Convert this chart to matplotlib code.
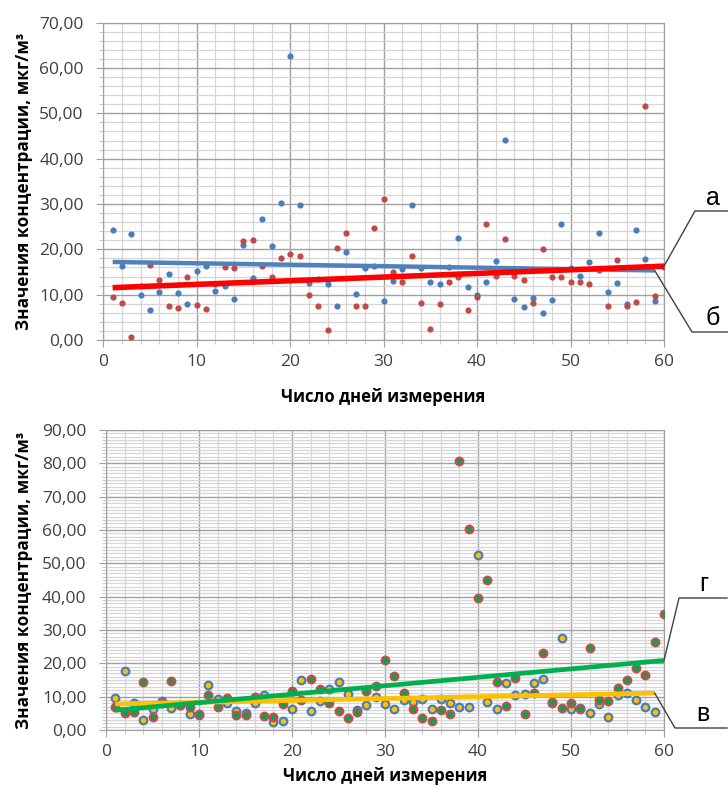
import numpy as np
import matplotlib
matplotlib.use("Agg")
import matplotlib.pyplot as plt
from matplotlib.lines import Line2D
from matplotlib.ticker import MultipleLocator, FuncFormatter

plt.rcParams['font.family'] = ['Open Sans', 'DejaVu Sans']

# ---- data ----
days_b = np.arange(1, 60)
conc_b = [24.2, 16.4, 23.4, 9.9, 6.6, 10.6, 14.6, 10.4, 7.9, 15.3,
          16.4, 10.7, 11.9, 9.1, 21.0, 13.7, 26.7, 20.7, 30.2, 62.6,
          29.7, 12.6, 13.5, 12.3, 7.6, 19.5, 10.1, 15.8, 16.3, 8.5,
          13.1, 15.6, 29.7, 15.9, 12.7, 12.3, 16.0, 22.5, 11.7, 9.9,
          12.9, 17.4, 44.1, 9.0, 7.3, 9.3, 6.0, 8.8, 25.7, 15.9,
          14.2, 17.2, 23.5, 10.6, 12.5, 7.9, 24.2, 17.8, 8.7]

days_a = np.arange(1, 61)
conc_a = [9.5, 8.2, 0.7, 11.9, 16.5, 13.2, 7.4, 7.0, 13.8, 7.8,
          6.8, 12.3, 16.2, 15.8, 21.8, 22.1, 16.4, 13.8, 18.2, 19.0,
          18.5, 9.9, 7.6, 2.1, 20.4, 23.5, 7.4, 7.4, 24.8, 31.2,
          14.9, 12.7, 18.5, 8.2, 2.5, 8.0, 12.7, 14.0, 6.6, 9.4,
          25.7, 14.1, 22.3, 14.1, 13.2, 8.2, 20.1, 13.8, 13.8, 12.7,
          12.7, 12.3, 15.5, 7.4, 17.6, 7.4, 8.4, 51.6, 9.6, 16.0]

days_v = np.arange(1, 60)
conc_v = [9.6, 17.8, 8.2, 3.0, 6.4, 8.7, 6.5, 7.4, 4.8, 4.6,
          13.4, 9.3, 8.1, 5.7, 5.2, 8.0, 10.5, 2.4, 2.7, 6.2,
          15.1, 5.8, 8.6, 12.2, 14.3, 10.7, 6.0, 7.6, 9.9, 7.9,
          6.2, 8.9, 8.5, 9.2, 6.2, 9.4, 8.0, 7.0, 6.8, 52.6,
          8.4, 6.2, 14.2, 10.5, 10.8, 14.2, 15.4, 8.0, 27.5, 6.2,
          6.5, 5.2, 7.8, 4.0, 10.4, 11.2, 9.0, 6.8, 5.4]

days_g = np.arange(1, 61)
conc_g = [7.0, 5.2, 5.3, 14.3, 3.8, 8.0, 14.8, 7.6, 6.9, 4.9,
          10.6, 6.8, 9.7, 4.4, 4.4, 9.8, 4.1, 4.0, 7.7, 11.8,
          8.9, 15.3, 12.2, 8.0, 5.7, 3.7, 5.3, 11.7, 13.1, 20.9,
          16.2, 11.1, 6.3, 3.5, 2.7, 5.9, 4.8, 80.8, 60.4, 39.6,
          45.1, 14.3, 7.1, 15.6, 4.9, 11.0, 23.0, 8.4, 6.6, 8.2,
          6.2, 24.7, 9.1, 8.6, 12.5, 15.0, 18.7, 16.4, 26.4, 34.7]

y_label = "Значения концентрации, мкг/м³"
x_label = "Число дней измерения"

W, H = 728, 792


def px_rect(l, t, r, b):
    return [l / W, 1 - b / H, (r - l) / W, (b - t) / H]


def px(x, y):
    return x / W, 1 - y / H


def trend(x, y):
    # linear trendline, like Excel's
    k, c = np.polyfit(x, y, 1)
    xs = np.array([x.min(), x.max()])
    return xs, k * xs + c


def style_axes(ax, ymax, ystep_minor, left_px, xlab_pad):
    ax.set_xlim(0, 60)
    ax.set_ylim(0, ymax)
    ax.xaxis.set_major_locator(MultipleLocator(10))
    ax.xaxis.set_minor_locator(MultipleLocator(2))
    ax.yaxis.set_major_locator(MultipleLocator(10))
    ax.yaxis.set_minor_locator(MultipleLocator(ystep_minor))
    ax.yaxis.set_major_formatter(FuncFormatter(lambda v, p: f"{v:.2f}".replace(".", ",")))
    ax.grid(which="major", color="#a0a0a0", lw=1.0)
    ax.grid(which="minor", color="#d6d6d6", lw=0.9)
    ax.set_axisbelow(True)
    for s in ax.spines.values():
        s.set_color("#a0a0a0")
    ax.tick_params(which="major", length=5, color="#a0a0a0", labelsize=12.5,
                   labelcolor="#404040")
    ax.tick_params(axis="y", which="major", pad=9)
    ax.tick_params(axis="x", which="major", pad=5)
    ax.tick_params(which="minor", length=3, color="#c0c0c0")
    ax.set_ylabel(y_label, fontsize=12.3, fontweight="bold")
    w_px = ax.get_position().width * W
    ax.yaxis.set_label_coords((33 - left_px) / w_px, 0.5)
    ax.set_xlabel(x_label, fontsize=12, fontweight="bold", labelpad=xlab_pad)


def callout(fig, ax, xd, yd, knee, end, label, lab_pos):
    sx, sy = fig.transFigure.inverted().transform(ax.transData.transform((xd, yd)))
    kx, ky = px(*knee)
    ex, ey = px(*end)
    fig.add_artist(Line2D([sx, kx, ex], [sy, ky, ey], transform=fig.transFigure,
                          color="#404040", lw=1.0))
    fig.text(*px(*lab_pos), label, fontsize=18, family="Liberation Sans",
             ha="center", va="center", color="#000000")


fig = plt.figure(figsize=(W / 100, H / 100), dpi=100)

# ---- top chart ----
ax1 = fig.add_axes(px_rect(103.3, 22.7, 664, 340))
style_axes(ax1, 70, 2, 103.3, 13)
ax1.scatter(days_b, conc_b, s=20, color="#4a7ebb", zorder=3, linewidths=0)
ax1.scatter(days_a, conc_a, s=20, color="#be4b48", zorder=3, linewidths=0)
xb, yb = trend(days_b, np.array(conc_b))
xa, ya = trend(days_a, np.array(conc_a))
ax1.plot(xb, yb, color="#4f81bd", lw=3.2, zorder=4, solid_capstyle="butt")
ax1.plot(xa, ya, color="#ff0000", lw=4.0, zorder=5, solid_capstyle="butt")

# ---- bottom chart ----
ax2 = fig.add_axes(px_rect(106, 430, 664, 730))
style_axes(ax2, 90, 1, 106, 5)
ax2.scatter(days_v, conc_v, s=30, color="#ffc000", edgecolors="#4a7ebb",
            linewidths=1.6, zorder=3)
ax2.scatter(days_g, conc_g, s=30, color="#00a650", edgecolors="#c0504d",
            linewidths=1.6, zorder=3)
xv, yv = trend(days_v, np.array(conc_v))
xg, yg = trend(days_g, np.array(conc_g))
ax2.plot(xv, yv, color="#ffc000", lw=3.4, zorder=4, solid_capstyle="butt")
ax2.plot(xg, yg, color="#00b050", lw=3.4, zorder=5, solid_capstyle="butt")

callout(fig, ax1, xa[1], ya[1], (695, 211), (728, 211), "а", (713, 198))
callout(fig, ax1, xb[1], yb[1], (692, 332), (728, 332), "б", (713, 318))
callout(fig, ax2, xg[1], yg[1], (679, 598), (727, 598), "г", (704, 584))
callout(fig, ax2, xv[1], yv[1], (675, 728), (727, 728), "в", (703, 714))

fig.savefig("out.png", dpi=100)
